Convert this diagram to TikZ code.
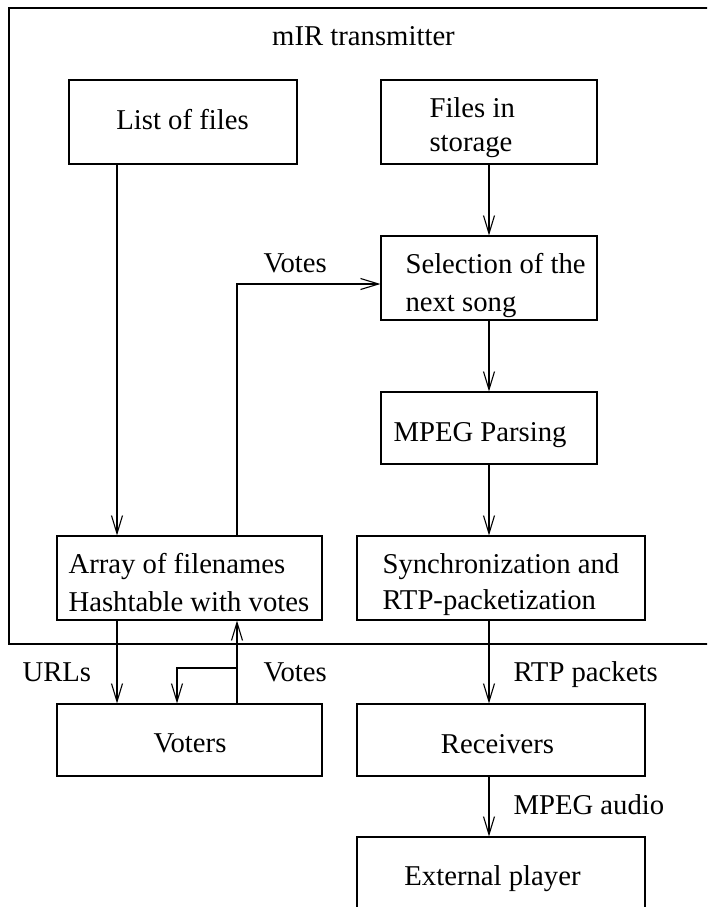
\documentclass[tikz,border=0pt]{standalone}
\usepackage{fontspec}
\setmainfont{Liberation Serif}
\usetikzlibrary{arrows.meta}
\begin{document}
\begin{tikzpicture}[x=1pt,y=-1pt,line width=1.1pt,
  box/.style={draw,inner sep=0pt,minimum width=#1},
  txt/.style={inner sep=0pt,anchor=base west,font=\fontsize{28.7}{36}\selectfont},
  ctxt/.style={inner sep=0pt,anchor=base,font=\fontsize{28.7}{36}\selectfont},
  arw/.style={-{Straight Barb[length=18pt,width=11pt,line width=1.1pt]}}]
\useasboundingbox (0,0) rectangle (707,907);
\clip (0,0) rectangle (707,907);
% frame
\draw (720,8) -- (9,8) -- (9,644) -- (720,644);
\node[ctxt] (title) at (363.5,46) {mIR transmitter};
% boxes
\node[box=228pt,minimum height=84pt] (lof) at (183,122) {};
\node[box=216pt,minimum height=84pt] (fis) at (489,122) {};
\node[box=216pt,minimum height=84pt] (sel) at (489,278) {};
\node[box=216pt,minimum height=72pt] (mpg) at (489,428) {};
\node[box=265pt,minimum height=84pt] (arr) at (189.5,578) {};
\node[box=288pt,minimum height=84pt] (syn) at (501,578) {};
\node[box=265pt,minimum height=72pt] (vot) at (189.5,740) {};
\node[box=288pt,minimum height=72pt] (rec) at (501,740) {};
\node[box=288pt,minimum height=100pt] (ext) at (501,887) {};
% texts
\node[ctxt] (lofT) at (182.5,129) {List of files};
\node[txt] (fisT1) at (429,117) {Files in};
\node[txt] (fisT2) at (429,151) {storage};
\node[txt] (selT1) at (405,273) {Selection of the};
\node[txt] (selT2) at (405,311) {next song};
\node[txt] (mpgT) at (393,441) {MPEG Parsing};
\node[txt] (arrT1) at (68,573) {Array of filenames};
\node[txt] (arrT2) at (68,611) {Hashtable with votes};
\node[txt] (synT1) at (382,573) {Synchronization and};
\node[txt] (synT2) at (382,609) {RTP-packetization};
\node[ctxt] (votT) at (190,752) {Voters};
\node[ctxt] (recT) at (497.5,753) {Receivers};
\node[ctxt] (extT) at (492.5,885) {External player};
% labels
\node[txt] (lVotesUp) at (263,272) {Votes};
\node[txt] (lURLs) at (22,681) {URLs};
\node[txt] (lVotes) at (263,681) {Votes};
\node[txt] (lRTP) at (513,681) {RTP packets};
\node[txt] (lMPEG) at (513,814) {MPEG audio};
% helper coordinates
\coordinate (xL) at (117,0);
\coordinate (xV) at (237,0);
\coordinate (xW) at (177,0);
\coordinate (xR) at (489,0);
\coordinate (ySel) at (0,284);
\coordinate (lp) at (237,668);
% connectors
\draw[arw] (lof.south -| xL) -- (arr.north -| xL);
\draw[arw] (fis.south) -- (sel.north);
\draw[arw] (sel.south) -- (mpg.north);
\draw[arw] (mpg.south) -- (syn.north -| xR);
\draw[arw] (syn.south -| xR) -- (rec.north -| xR);
\draw[arw] (rec.south -| xR) -- (ext.north -| xR);
\draw[arw] (arr.north -| xV) |- (sel.west |- ySel);
\draw[arw] (arr.south -| xL) -- (vot.north -| xL);
\draw[arw] (vot.north -| xV) -- (arr.south -| xV);
\draw[arw] (lp) -| (vot.north -| xW);
\end{tikzpicture}
\end{document}
